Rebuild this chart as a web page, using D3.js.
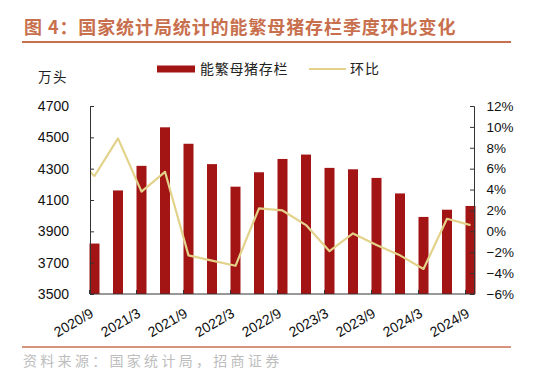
<!DOCTYPE html>
<html><head><meta charset="utf-8">
<script src="https://cdn.jsdelivr.net/npm/d3@7"></script>
<style>
body{margin:0;background:#fff}
svg text{font-family:"Liberation Sans",Arial,sans-serif}
.cjk{font-family:"Noto Sans CJK SC",sans-serif !important}
</style></head><body>
<script>
const categories = ["2020/9","2020/12","2021/3","2021/6","2021/9","2021/12","2022/3","2022/6","2022/9","2022/12","2023/3","2023/6","2023/9","2023/12","2024/3","2024/6","2024/9"];
const sowStock = [3822,4161,4318,4564,4459,4329,4185,4277,4362,4390,4305,4296,4241,4142,3992,4038,4062];
const qoq = [5.3,8.9,3.8,5.7,-2.3,-2.8,-3.3,2.2,2.0,0.6,-1.9,-0.2,-1.3,-2.3,-3.6,1.2,0.6];
const qoqPrev = 7.4; // 2020/6, partly visible at the left edge
const leftTicks = [3500,3700,3900,4100,4300,4500,4700];
const rightTicks = [-6,-4,-2,0,2,4,6,8,10,12];
const xLabels = ["2020/9","2021/3","2021/9","2022/3","2022/9","2023/3","2023/9","2024/3","2024/9"];

const W = 550, H = 379;
const plot = {left: 90, right: 474, top: 106, bottom: 294};
const svg = d3.select("body").append("svg").attr("width", W).attr("height", H);

// title
svg.append("text").attr("class","cjk").attr("x",24).attr("y",34)
  .attr("font-size",18).attr("font-weight","bold").attr("letter-spacing",0.9).attr("fill","#c8704e")
  .text("图 4：国家统计局统计的能繁母猪存栏季度环比变化");
svg.append("line").attr("x1",22).attr("x2",511).attr("y1",42).attr("y2",42)
  .attr("stroke","#c8704e").attr("stroke-width",2);

// legend
svg.append("rect").attr("x",157).attr("y",65.5).attr("width",38).attr("height",7).attr("fill","#a31515");
svg.append("text").attr("class","cjk").attr("x",200).attr("y",74).attr("font-size",14)
  .attr("letter-spacing",0.7).attr("fill","#222").text("能繁母猪存栏");
svg.append("line").attr("x1",309).attr("x2",346).attr("y1",69).attr("y2",69)
  .attr("stroke","#e3d28a").attr("stroke-width",2);
svg.append("text").attr("class","cjk").attr("x",350).attr("y",74).attr("font-size",14)
  .attr("letter-spacing",1).attr("fill","#222").text("环比");
svg.append("text").attr("class","cjk").attr("x",38).attr("y",82).attr("font-size",13.5)
  .attr("letter-spacing",1.5).attr("fill","#222").text("万头");

// scales
const x = d3.scalePoint().domain(categories).range([94.5, 470.5]);
const step = x.step();
const yL = d3.scaleLinear().domain([3500,4700]).range([plot.bottom, plot.top]);
const yR = d3.scaleLinear().domain([-6,12]).range([plot.bottom, plot.top]);
const barW = 10;

// bars
svg.append("g").selectAll("rect").data(sowStock).join("rect")
  .attr("x",(d,i)=>x(categories[i])-barW/2).attr("width",barW)
  .attr("y",d=>yL(d)).attr("height",d=>yL(3500)-yL(d))
  .attr("fill","#a31515");

// line (clipped to plot)
svg.append("clipPath").attr("id","clip").append("rect")
  .attr("x",plot.left).attr("y",0).attr("width",plot.right-plot.left).attr("height",H);
const linePts = [[x(categories[0])-step, yR(qoqPrev)]].concat(qoq.map((v,i)=>[x(categories[i]), yR(v)]));
svg.append("path").attr("clip-path","url(#clip)")
  .attr("d", d3.line()(linePts)).attr("fill","none")
  .attr("stroke","#e3d28a").attr("stroke-width",2.2).attr("stroke-linejoin","round");

// left axis
const gL = svg.append("g").attr("transform",`translate(${plot.left},0)`)
  .call(d3.axisLeft(yL).tickValues(leftTicks).tickSize(-4).tickPadding(21).tickFormat(d3.format("d")));
gL.select(".domain").attr("stroke","#333");
gL.selectAll(".tick line").attr("stroke","#333");
gL.selectAll("text").attr("font-size",14).attr("fill","#111");

// right axis
const gR = svg.append("g").attr("transform",`translate(${plot.right},0)`)
  .call(d3.axisRight(yR).tickValues(rightTicks).tickSize(-4).tickPadding(12.5).tickFormat(d=>(d<0?"−":"")+Math.abs(d)+"%"));
gR.select(".domain").attr("stroke","#333");
gR.selectAll(".tick line").attr("stroke","#333");
gR.selectAll("text").attr("font-size",13.5).attr("fill","#111");

// bottom axis
svg.append("line").attr("x1",plot.left).attr("x2",plot.right).attr("y1",plot.bottom).attr("y2",plot.bottom)
  .attr("stroke","#333").attr("stroke-width",1);
svg.append("g").selectAll("line").data(xLabels).join("line")
  .attr("x1",d=>x(d)-barW/2).attr("x2",d=>x(d)-barW/2)
  .attr("y1",plot.bottom).attr("y2",plot.bottom-4).attr("stroke","#333");
svg.append("g").selectAll("text").data(xLabels).join("text")
  .attr("transform",d=>`translate(${x(d)},316) rotate(-30)`)
  .attr("text-anchor","end").attr("font-size",14).attr("fill","#111").text(d=>d);

// footer
svg.append("line").attr("x1",22).attr("x2",511).attr("y1",347).attr("y2",347)
  .attr("stroke","#d8937c").attr("stroke-width",2);
svg.append("text").attr("class","cjk").attr("x",23).attr("y",366).attr("font-size",14)
  .attr("letter-spacing",3.3).attr("fill","#bdbdbd").text("资料来源：国家统计局，招商证券");
</script>
</body></html>
